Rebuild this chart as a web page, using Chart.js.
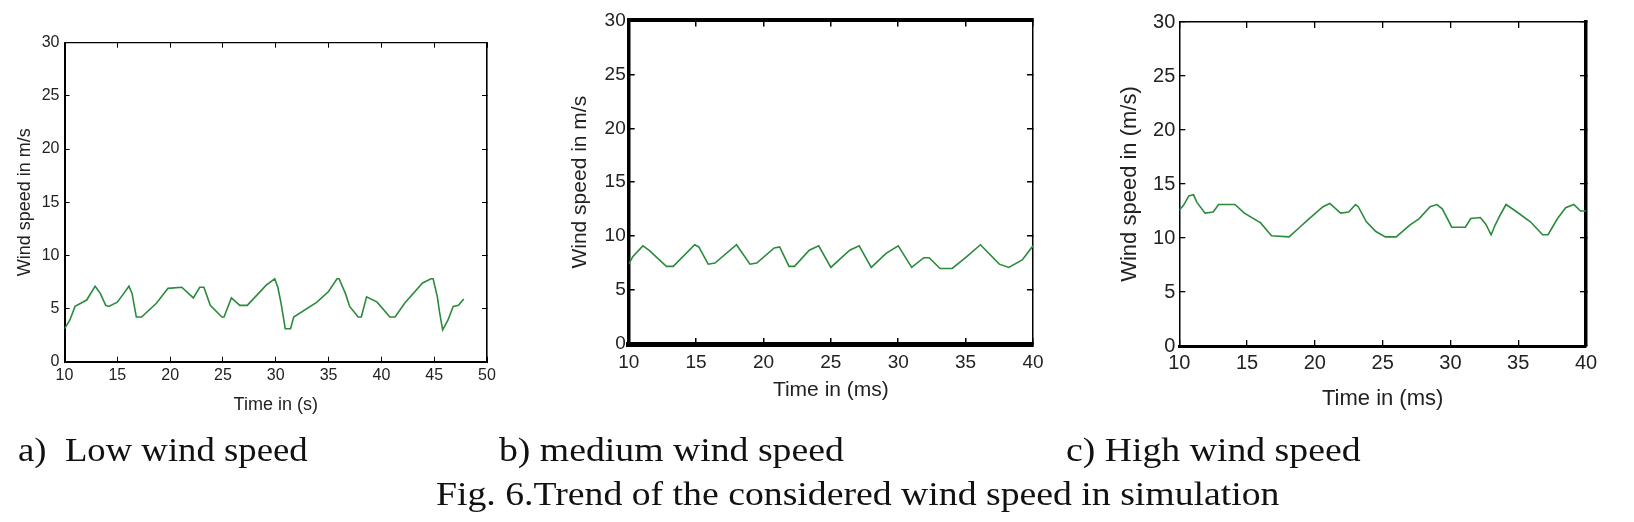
<!DOCTYPE html>
<html>
<head>
<meta charset="utf-8">
<script src="https://cdn.jsdelivr.net/npm/chart.js@4.4.1/dist/chart.umd.min.js"></script>
<style>
  html, body { margin: 0; padding: 0; background: #fff; }
  #stage { position: relative; width: 1634px; height: 522px; overflow: hidden; }
  #stage canvas { position: absolute; left: 0; top: 0; }
  .cap {
    position: absolute;
    font-family: "Liberation Serif", "Times New Roman", serif;
    font-size: 34px;
    line-height: 34px;
    color: #111;
    white-space: pre;
    transform-origin: 0 0;
    transform: scaleX(1.11);
  }
</style>
</head>
<body>
<div id="stage">
  <canvas id="chartA" width="1634" height="522"></canvas>
  <canvas id="chartB" width="1634" height="522"></canvas>
  <canvas id="chartC" width="1634" height="522"></canvas>
  <div class="cap" style="left:18px;top:433px;transform:scaleX(1.08)">a)  Low wind speed</div>
  <div class="cap" style="left:499px;top:433px">b) medium wind speed</div>
  <div class="cap" style="left:1066px;top:433px">c) High wind speed</div>
  <div class="cap" style="left:436px;top:477px">Fig. 6.Trend of the considered wind speed in simulation</div>
</div>
<script>
// a) low wind speed, time in s
const timeA = [10, 10.5, 11, 12.1, 12.9, 13.4, 13.9, 14.2, 15, 15.6, 16.1, 16.4, 16.8, 17.3, 18.7, 19.8, 21.1, 22.2, 22.8, 23.2,
  23.8, 24.9, 25.1, 25.8, 26.6, 27.3, 29.1, 29.9, 30.2, 30.5, 30.9, 31.4, 31.7, 33.9, 35, 35.8, 36.0, 36.6, 37.0, 37.8,
  38.1, 38.6, 39.6, 40.8, 41.3, 42.2, 43.9, 44.7, 44.9, 45.3, 45.5, 45.8, 46.3, 46.8, 47.3, 47.8];
const speedA = [3.1, 3.9, 5.2, 5.8, 7.1, 6.4, 5.3, 5.2, 5.6, 6.4, 7.1, 6.4, 4.2, 4.2, 5.5, 6.9, 7.0, 6.0, 7.0, 7.0,
  5.3, 4.2, 4.2, 6.0, 5.3, 5.3, 7.2, 7.8, 7.0, 5.5, 3.1, 3.1, 4.2, 5.6, 6.6, 7.8, 7.8, 6.4, 5.2, 4.2,
  4.2, 6.1, 5.6, 4.2, 4.2, 5.5, 7.4, 7.8, 7.8, 6.1, 4.7, 3.0, 3.9, 5.2, 5.3, 5.9];

// b) medium wind speed, time in ms
const timeB = [10, 10.3, 11.05, 11.5, 12.8, 13.3, 14.9, 15.2, 15.9, 16.4, 18.0, 19.0, 19.5, 20.8, 21.2, 21.9, 22.3, 23.4,
  24.1, 25.0, 26.4, 27.1, 28.0, 29.1, 30.0, 31.0, 31.9, 32.3, 33.1, 34.0, 35.0, 36.1, 37.5, 38.2, 39.2, 40];
const speedB = [7.4, 8.1, 9.1, 8.7, 7.2, 7.2, 9.2, 9.0, 7.4, 7.5, 9.2, 7.4, 7.5, 8.9, 9.0, 7.2, 7.2, 8.7,
  9.1, 7.1, 8.7, 9.1, 7.1, 8.4, 9.1, 7.1, 8.0, 8.0, 7.0, 7.0, 8.0, 9.2, 7.4, 7.1, 7.8, 9.1];

// c) high wind speed, time in ms
const timeC = [10, 10.3, 10.7, 11.05, 11.3, 11.9, 12.5, 12.9, 14.1, 14.8, 16.0, 16.8, 18.1, 18.8, 19.5, 20.6,
  21.1, 21.9, 22.5, 23.0, 23.2, 23.8, 24.5, 25.2, 26.0, 27.0, 27.7, 28.5, 29.0, 29.4, 30.1, 31.1,
  31.5, 32.2, 32.6, 33.0, 33.3, 33.7, 34.1, 34.8, 35.9, 36.8, 37.2, 37.9, 38.5, 39.1, 39.6, 40];
const speedC = [12.6, 13.0, 13.9, 14.0, 13.3, 12.3, 12.4, 13.1, 13.1, 12.3, 11.4, 10.2, 10.1, 10.9, 11.7, 12.9,
  13.2, 12.3, 12.4, 13.1, 12.9, 11.5, 10.6, 10.1, 10.1, 11.2, 11.8, 12.9, 13.1, 12.7, 11.0, 11.0,
  11.8, 11.9, 11.3, 10.3, 11.2, 12.2, 13.1, 12.5, 11.5, 10.3, 10.3, 11.8, 12.8, 13.1, 12.5, 12.5];

const xTicksA = [10, 15, 20, 25, 30, 35, 40, 45, 50];
const xTicksBC = [10, 15, 20, 25, 30, 35, 40];
const yTicks = [0, 5, 10, 15, 20, 25, 30];

const W = 1634, H = 522;
const LINE_COLOR = '#2b8a3c';
const SANS = '"Liberation Sans", Arial, sans-serif';

function buildChart(id, times, speeds, xTicks, xTitle, yTitle, L) {
  const lh = L.titleSize * 1.2;
  const padLeft = L.yTitleX - lh / 2;
  const yWidth = L.left - padLeft;
  const xHeight = L.xTitleY + lh / 2 - L.bottom;
  const tickFont = { family: SANS, size: L.tickSize };
  const titleFont = { family: SANS, size: L.titleSize, lineHeight: 1.2 };
  const setTicks = (arr) => (scale) => { scale.ticks = arr.map((v) => ({ value: v })); };
  const grid = { drawOnChartArea: false, drawTicks: true, tickLength: -L.tick, color: '#000', lineWidth: L.tickW };

  new Chart(document.getElementById(id), {
    type: 'line',
    data: {
      datasets: [{
        data: times.map((t, i) => ({ x: t, y: speeds[i] })),
        borderColor: LINE_COLOR,
        borderWidth: 1.6,
        pointRadius: 0,
        tension: 0,
        xAxisID: 'x',
        yAxisID: 'y'
      }]
    },
    options: {
      responsive: false,
      animation: false,
      events: [],
      layout: {
        autoPadding: false,
        padding: { left: padLeft, top: L.top, right: W - L.right, bottom: H - L.bottom - xHeight }
      },
      plugins: { legend: { display: false }, tooltip: { enabled: false } },
      scales: {
        x: {
          type: 'linear', position: 'bottom',
          min: xTicks[0], max: xTicks[xTicks.length - 1],
          afterBuildTicks: setTicks(xTicks),
          afterFit: (s) => { s.height = xHeight; },
          grid: grid,
          border: { display: true, color: '#000', width: L.bw.bottom },
          ticks: { padding: L.xPad + L.tick, color: '#222', font: tickFont, maxRotation: 0, autoSkip: false },
          title: { display: true, text: xTitle, color: '#222', font: titleFont, padding: 0 }
        },
        x2: {
          type: 'linear', position: 'top',
          min: xTicks[0], max: xTicks[xTicks.length - 1],
          afterBuildTicks: setTicks(xTicks),
          afterFit: (s) => { s.height = 0; },
          grid: grid,
          border: { display: true, color: '#000', width: L.bw.top },
          ticks: { display: false }
        },
        y: {
          type: 'linear', position: 'left',
          min: yTicks[0], max: yTicks[yTicks.length - 1],
          afterBuildTicks: setTicks(yTicks),
          afterFit: (s) => { s.width = yWidth; },
          grid: grid,
          border: { display: true, color: '#000', width: L.bw.left },
          ticks: { padding: L.yPad + L.tick, color: '#222', font: tickFont, autoSkip: false },
          title: { display: true, text: yTitle, color: '#222', font: titleFont, padding: 0 }
        },
        y2: {
          type: 'linear', position: 'right',
          min: yTicks[0], max: yTicks[yTicks.length - 1],
          afterBuildTicks: setTicks(yTicks),
          afterFit: (s) => { s.width = 0; },
          grid: grid,
          border: { display: true, color: '#000', width: L.bw.right },
          ticks: { display: false }
        }
      }
    }
  });
}

buildChart('chartA', timeA, speedA, xTicksA, 'Time in (s)', 'Wind speed in m/s', {
  left: 64.5, top: 42.7, right: 487, bottom: 361.7,
  xTitleY: 405, yTitleX: 25, tickSize: 16, titleSize: 18,
  tick: 5, tickW: 1, xPad: 4, yPad: 5,
  bw: { left: 2, bottom: 2, top: 1.2, right: 1.6 }
});

buildChart('chartB', timeB, speedB, xTicksBC, 'Time in (ms)', 'Wind speed in m/s', {
  left: 628.7, top: 17.3, right: 1033, bottom: 344,
  xTitleY: 390, yTitleX: 580, tickSize: 19, titleSize: 21,
  tick: 6, tickW: 1.5, xPad: 7, yPad: 3,
  bw: { left: 3.5, bottom: 5, top: 4, right: 1.5 }
});

buildChart('chartC', timeC, speedC, xTicksBC, 'Time in (ms)', 'Wind speed in (m/s)', {
  left: 1179.3, top: 14, right: 1586, bottom: 346,
  xTitleY: 399, yTitleX: 1130, tickSize: 20, titleSize: 22,
  tick: 6, tickW: 1.3, xPad: 5, yPad: 4,
  bw: { left: 1.5, bottom: 3, top: 1.5, right: 3.5 }
});
</script>
</body>
</html>
